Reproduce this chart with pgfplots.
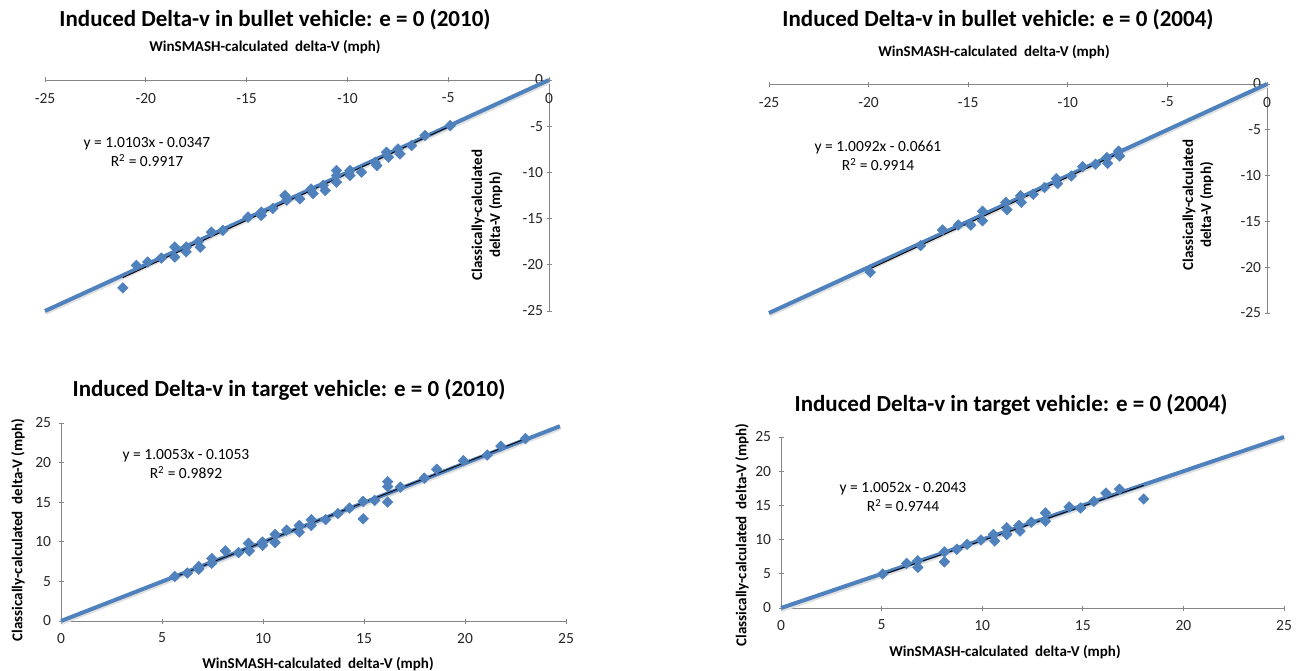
\documentclass[border=0pt]{standalone}
\usepackage{fontspec}
\setmainfont{Carlito}
\usepackage{pgfplots}
\pgfplotsset{compat=1.18}
\definecolor{xblue}{HTML}{4F81BD}
\definecolor{axgray}{HTML}{868686}
\pgfplotsset{
  exc/.style={scale only axis, clip=false, enlargelimits=false,
    axis line style={draw=axgray, line width=0.9pt, -},
    x axis line style={-}, y axis line style={-},
    tick style={draw=axgray, line width=0.9pt},
    major tick length=5pt,
    tick label style={font=\fontsize{15.5}{18}\selectfont, text=black!85},
    /pgf/number format/assume math mode=true,
  },
  pts/.style={only marks, mark=square*, mark size=3.8pt, mark options={rotate=45, fill=xblue, draw=xblue}},
  thick/.style={xblue, line width=4pt, no marks},
  shad/.style={black!12, line width=4pt, no marks, yshift=-2pt, xshift=0.5pt},
  trend/.style={black, line width=0.9pt, no marks},
}
\newcommand{\ttl}{\fontsize{23}{27}\selectfont\bfseries}
\newcommand{\lab}{\fontsize{15}{18}\selectfont\bfseries}
\newcommand{\eqf}{\fontsize{15.5}{19}\selectfont}
\begin{document}
\begin{tikzpicture}
\path[use as bounding box] (0,0) rectangle (1297pt,-671pt);

% ---------- Panel 1 ----------
\begin{axis}[exc, at={(45pt,-311pt)}, anchor=south west, width=504pt, height=231pt,
  xmin=-25, xmax=0, ymin=-25, ymax=0, axis lines=middle,
  x axis line style={-}, y axis line style={-},
  hide obscured x ticks=false, hide obscured y ticks=false,
  xticklabel style={yshift=-7pt},
  xtick={-25,-20,-15,-10,-5,0}, ytick={-25,-20,-15,-10,-5,0},
  xticklabels={-25,-20,-15,-10,-5,0}, yticklabels={-25,-20,-15,-10,-5,0}]
\addplot[shad] coordinates {(-25,-25) (0,0)};
\addplot[thick] coordinates {(-25,-25) (0,0)};
\addplot[pts] coordinates {
(-21.14,-22.5) (-20.47,-20.06) (-19.9,-19.7) (-19.23,-19.27) (-18.56,-18.08) (-18.56,-19.16)
(-17.99,-18.08) (-18.0,-18.6) (-17.4,-17.5) (-17.3,-18.1) (-16.75,-16.46) (-16.18,-16.28)
(-14.93,-14.84) (-14.27,-14.3) (-14.27,-14.66) (-13.7,-13.9) (-13.1,-12.5) (-13.0,-13.0)
(-12.36,-12.86) (-11.8,-11.8) (-11.7,-12.3) (-11.2,-11.4) (-11.1,-11.96) (-10.54,-9.8)
(-10.54,-10.34) (-10.54,-11.06) (-9.87,-9.8) (-9.87,-10.34) (-9.3,-9.98) (-8.63,-8.9)
(-8.54,-9.26) (-8.06,-7.82) (-7.96,-8.36) (-7.49,-7.46) (-7.39,-8.0) (-6.82,-7.1)
(-6.15,-6.0) (-4.9,-4.94)};
\addplot[trend] coordinates {(-21.14,-21.39) (-4.9,-4.985)};
\end{axis}
\node[font=\ttl] at (275pt,-20pt) {Induced Delta-v in bullet vehicle: e = 0 (2010)};
\node[font=\lab] at (265pt,-47pt) {WinSMASH-calculated\ \ delta-V (mph)};
\node[font=\lab, rotate=90, align=center] at (487pt,-215pt) {Classically-calculated\\delta-V (mph)};
\node[font=\eqf, align=center] at (147pt,-152pt) {y = 1.0103x - 0.0347\\R\textsuperscript{2} = 0.9917};

% ---------- Panel 2 ----------
\begin{axis}[exc, at={(769pt,-313pt)}, anchor=south west, width=498pt, height=229pt,
  xmin=-25, xmax=0, ymin=-25, ymax=0, axis lines=middle,
  x axis line style={-}, y axis line style={-},
  hide obscured x ticks=false, hide obscured y ticks=false,
  xticklabel style={yshift=-7pt},
  xtick={-25,-20,-15,-10,-5,0}, ytick={-25,-20,-15,-10,-5,0},
  xticklabels={-25,-20,-15,-10,-5,0}, yticklabels={-25,-20,-15,-10,-5,0}]
\addplot[shad] coordinates {(-25,-25) (0,0)};
\addplot[thick] coordinates {(-25,-25) (0,0)};
\addplot[pts] coordinates {
(-19.92,-20.54) (-17.39,-17.64) (-16.29,-15.94) (-15.5,-15.4) (-14.87,-15.4) (-14.28,-13.9)
(-14.28,-14.93) (-13.11,-12.93) (-13.05,-13.73) (-12.37,-12.2) (-12.33,-12.93) (-11.74,-12.03)
(-11.17,-11.3) (-10.57,-10.33) (-10.51,-10.87) (-9.83,-10.04) (-9.26,-9.02) (-8.61,-8.77)
(-8.04,-8.04) (-8.0,-8.66) (-7.45,-7.32) (-7.4,-7.86)};
\addplot[trend] coordinates {(-19.92,-20.17) (-7.4,-7.534)};
\end{axis}
\node[font=\ttl] at (998pt,-20pt) {Induced Delta-v in bullet vehicle: e = 0 (2004)};
\node[font=\lab] at (994pt,-52pt) {WinSMASH-calculated\ \ delta-V (mph)};
\node[font=\lab, rotate=90, align=center] at (1198pt,-205pt) {Classically-calculated\\delta-V (mph)};
\node[font=\eqf, align=center] at (878pt,-156pt) {y = 1.0092x - 0.0661\\R\textsuperscript{2} = 0.9914};

% ---------- Panel 3 ----------
\begin{axis}[exc, at={(61pt,-621pt)}, anchor=south west, width=505pt, height=198pt,
  xmin=0, xmax=25, ymin=0, ymax=25, axis lines=left,
  x axis line style={-}, y axis line style={-},
  xticklabel style={yshift=-6pt}, yticklabel style={xshift=-4pt},
  xtick={0,5,10,15,20,25}, ytick={0,5,10,15,20,25},
  xticklabels={0,5,10,15,20,25}, yticklabels={0,5,10,15,20,25}]
\addplot[shad] coordinates {(0,0) (24.7,24.6)};
\addplot[thick] coordinates {(0,0) (24.7,24.6)};
\addplot[pts] coordinates {
(5.63,5.63) (6.25,6.05) (6.82,6.89) (6.82,6.55) (7.46,7.89) (7.46,7.3) (8.14,8.85)
(8.79,8.64) (9.28,9.81) (9.32,8.85) (9.98,9.97) (9.98,9.56) (10.6,10.93) (10.6,9.89)
(11.17,11.48) (11.8,12.06) (11.8,11.23) (12.39,12.8) (12.39,12.06) (13.1,12.8) (13.71,13.56)
(14.28,14.27) (14.96,15.1) (14.96,12.9) (15.53,15.23) (16.17,17.6) (16.17,16.98) (16.17,15.02)
(16.8,16.9) (17.99,18.03) (18.6,19.15) (19.92,20.24) (21.1,20.95) (21.78,22.08) (22.99,23.04)};
\addplot[trend] coordinates {(5.63,5.555) (22.99,23.007)};
\end{axis}
\node[font=\ttl] at (289pt,-390pt) {Induced Delta-v in target vehicle: e = 0 (2010)};
\node[font=\lab] at (318pt,-664pt) {WinSMASH-calculated\ \ delta-V (mph)};
\node[font=\lab, rotate=90] at (18pt,-530pt) {Classically-calculated\ \ delta-V (mph)};
\node[font=\eqf, align=center] at (186pt,-464pt) {y = 1.0053x - 0.1053\\R\textsuperscript{2} = 0.9892};

% ---------- Panel 4 ----------
\begin{axis}[exc, at={(781pt,-608pt)}, anchor=south west, width=503pt, height=171pt,
  xmin=0, xmax=25, ymin=0, ymax=25, axis lines=left,
  x axis line style={-}, y axis line style={-},
  xticklabel style={yshift=-6pt}, yticklabel style={xshift=-4pt},
  xtick={0,5,10,15,20,25}, ytick={0,5,10,15,20,25},
  xticklabels={0,5,10,15,20,25}, yticklabels={0,5,10,15,20,25}]
\addplot[shad] coordinates {(0,0) (25,25)};
\addplot[thick] coordinates {(0,0) (25,25)};
\addplot[pts] coordinates {
(5.06,4.97) (6.24,6.52) (6.8,6.9) (6.8,5.94) (8.12,8.2) (8.12,6.76) (8.74,8.59) (9.25,9.31)
(9.94,9.94) (10.56,10.76) (10.62,9.8) (11.22,11.73) (11.22,10.76) (11.82,12.07) (11.88,11.25)
(12.44,12.55) (13.14,13.9) (13.14,12.69) (14.32,14.77) (14.89,14.62) (15.55,15.59) (16.15,16.8)
(16.82,17.37) (18.03,15.93)};
\addplot[trend] coordinates {(5.06,4.882) (18.03,17.92)};
\end{axis}
\node[font=\ttl] at (1011pt,-405pt) {Induced Delta-v in target vehicle: e = 0 (2004)};
\node[font=\lab] at (1005pt,-652pt) {WinSMASH-calculated\ \ delta-V (mph)};
\node[font=\lab, rotate=90] at (742pt,-535pt) {Classically-calculated\ \ delta-V (mph)};
\node[font=\eqf, align=center] at (903pt,-497pt) {y = 1.0052x - 0.2043\\R\textsuperscript{2} = 0.9744};
\end{tikzpicture}
\end{document}
